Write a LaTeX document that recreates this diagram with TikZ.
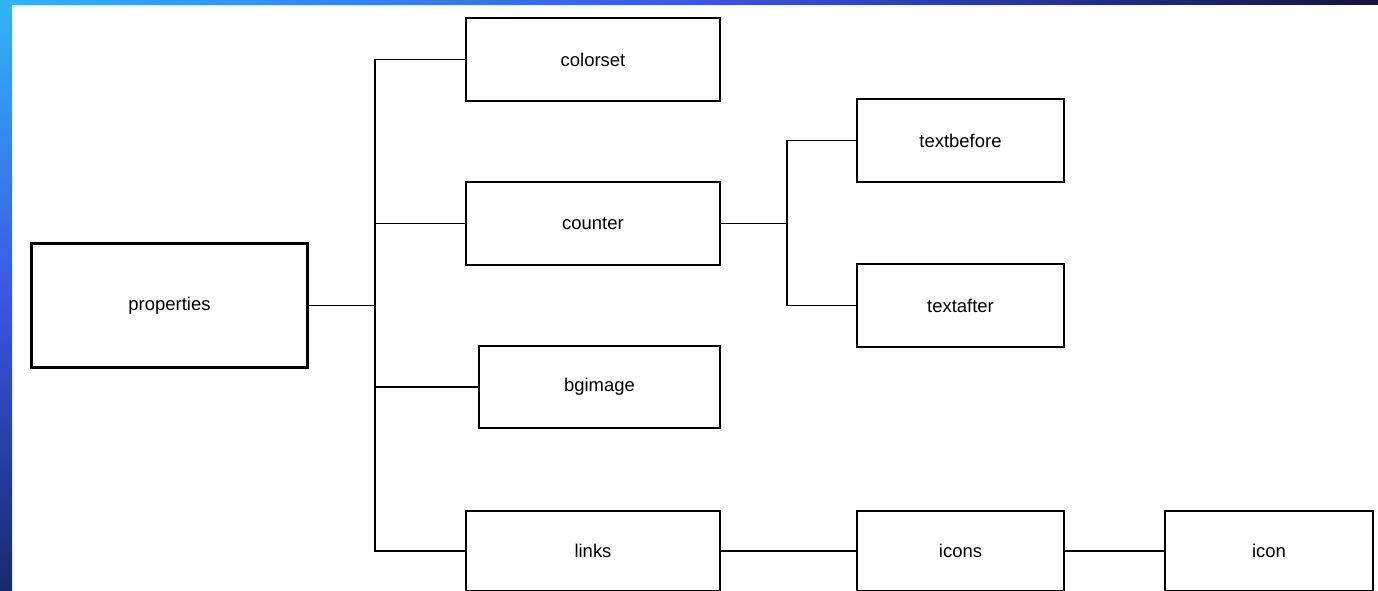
\documentclass[tikz,border=0pt]{standalone}
\usepackage{fontspec}
\setmainfont{Liberation Sans}
\definecolor{edgelight}{HTML}{33B4F6}
\definecolor{edgemid}{HTML}{3A56E6}
\definecolor{edgedark}{HTML}{14123E}
\definecolor{sidedark}{HTML}{172A6A}

\begin{document}
\begin{tikzpicture}[x=0.02cm, y=-0.02cm]
				\tikzstyle{every node}=[inner sep=1pt, align=center, font=\fontsize{10.5}{12}\selectfont]
				\tikzstyle{item}=[draw, line width=1.1pt, minimum width=5.08cm, minimum height=1.66cm]
				\tikzstyle{leaf}=[item, minimum width=4.14cm]
				\tikzstyle{root}=[item, line width=1.7pt, minimum width=5.54cm, minimum height=2.5cm]
				\tikzstyle{link}=[line width=1pt]
				\useasboundingbox (0, 0) rectangle (1378, 591);
				% slide edge
				\shade[left color=edgelight, right color=edgedark, middle color=edgemid] (0, 0) rectangle (1378, 5);
				\shade[top color=edgelight, bottom color=sidedark, middle color=edgemid] (0, 0) rectangle (12, 591);
				\node [root] (P) at (169.5, 305.5) {properties};
				\node [item] (CS) at (593, 59.5) {colorset};
				\node [item] (CT) at (593, 223.5) {counter};
				\node [item, minimum width=4.82cm, minimum height=1.64cm] (BG) at (599.5, 387) {bgimage};
				\node [item, minimum height=1.6cm] (L) at (593, 551) {links};
				\node [leaf] (TB) at (960.5, 140.5) {textbefore};
				\node [leaf] (TA) at (960.5, 305.5) {textafter};
				\node [leaf, minimum height=1.6cm] (IS) at (960.5, 551) {icons};
				\node [leaf, minimum width=4.16cm, minimum height=1.6cm] (I) at (1269, 551) {icon};
				\coordinate (T) at (375, 305.5);
				\coordinate (F) at (787, 223.5);
				\draw [link] (P) -- (T);
				\draw [link] (CS.west) -| (T);
				\draw [link] (L.west) -| (T);
				\draw [link] (CT.west) -- (CT.west -| T);
				\draw [link] (BG.west) -- (BG.west -| T);
				\draw [link] (CT) -- (F);
				\draw [link] (TB.west) -| (F);
				\draw [link] (TA.west) -| (F);
				\draw [link] (L) -- (IS);
				\draw [link] (IS) -- (I);
		\end{tikzpicture}
\end{document}
